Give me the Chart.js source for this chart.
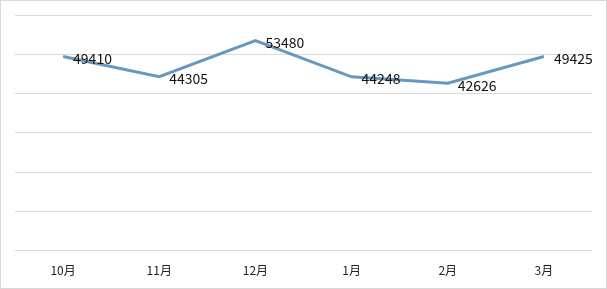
<!DOCTYPE html>
<html>
<head>
<meta charset="utf-8">
<script src="https://cdn.jsdelivr.net/npm/chart.js@4/dist/chart.umd.min.js"></script>
<style>
html,body{margin:0;padding:0;background:#fff;}
#wrap{width:607px;height:289px;position:relative;}
</style>
</head>
<body>
<div id="wrap"><canvas id="c" width="607" height="289"></canvas></div>
<script>
const categories = ['10月','11月','12月','1月','2月','3月'];
const values = [49410, 44305, 53480, 44248, 42626, 49425];
const yMin = 0, yMax = 60000, yStep = 10000;

const FONT = '"Microsoft YaHei","Noto Sans CJK SC","Noto Sans",sans-serif';

const labelPlugin = {
  id: 'pointLabels',
  afterDatasetsDraw(chart) {
    const ctx = chart.ctx;
    const meta = chart.getDatasetMeta(0);
    ctx.save();
    ctx.font = '14px ' + FONT;
    ctx.fillStyle = '#111';
    ctx.textAlign = 'left';
    ctx.textBaseline = 'middle';
    meta.data.forEach((pt, i) => {
      ctx.fillText(String(values[i]), pt.x + 10, pt.y + 2);
    });
    ctx.restore();
  }
};

const framePlugin = {
  id: 'frame',
  afterDraw(chart) {
    const ctx = chart.ctx;
    ctx.save();
    ctx.strokeStyle = '#d9d9d9';
    ctx.lineWidth = 1;
    ctx.strokeRect(0.5, 0.5, chart.width - 1, chart.height - 1);
    ctx.restore();
  }
};

new Chart(document.getElementById('c'), {
  type: 'line',
  data: {
    labels: categories,
    datasets: [{
      data: values,
      borderColor: '#6897bf',
      borderWidth: 3,
      pointRadius: 0,
      tension: 0,
      fill: false
    }]
  },
  options: {
    responsive: false,
    animation: false,
    devicePixelRatio: 1,
    layout: { padding: { left: 15, right: 15, top: 15, bottom: -2 } },
    plugins: { legend: { display: false }, tooltip: { enabled: false } },
    scales: {
      x: {
        offset: true,
        grid: { display: false, drawTicks: false },
        border: { display: false },
        ticks: { color: '#222', font: { size: 12, family: FONT }, padding: 13, maxRotation: 0 }
      },
      y: {
        min: yMin, max: yMax,
        grid: { color: '#d9d9d9', lineWidth: 1, drawTicks: false },
        border: { display: false },
        ticks: { display: false, stepSize: yStep }
      }
    }
  },
  plugins: [labelPlugin, framePlugin]
});
</script>
</body>
</html>
